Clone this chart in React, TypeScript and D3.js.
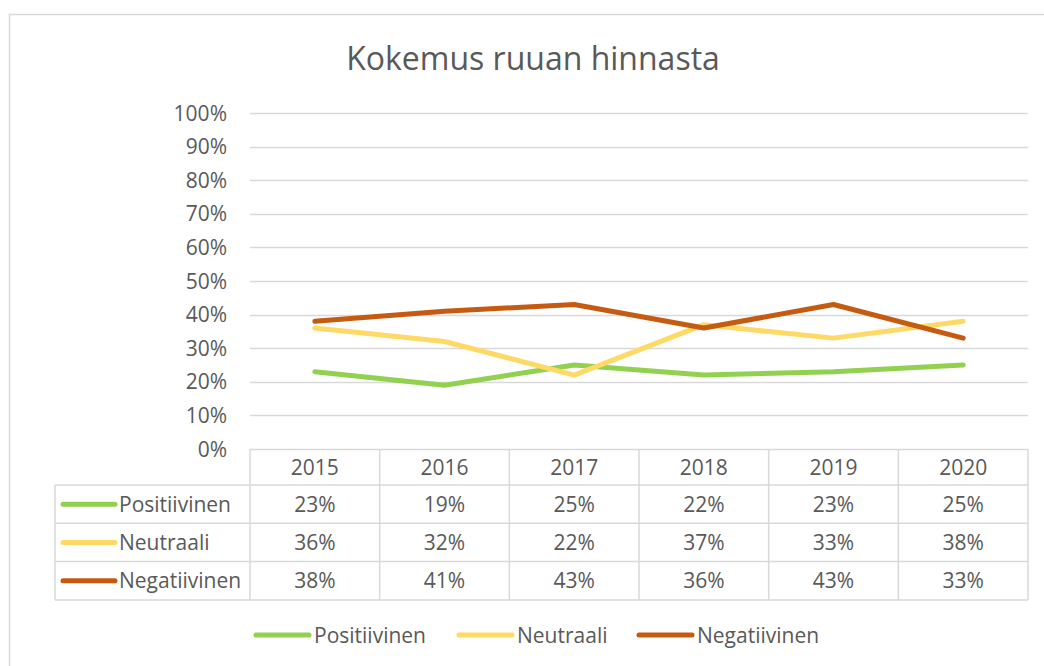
import React, { useEffect, useRef } from 'react';
import * as d3 from 'd3';

const title = 'Kokemus ruuan hinnasta';
const years = ['2015', '2016', '2017', '2018', '2019', '2020'];
const seriesNames = ['Positiivinen', 'Neutraali', 'Negatiivinen'];
const positiivinen = [23, 19, 25, 22, 23, 25];
const neutraali = [36, 32, 22, 37, 33, 38];
const negatiivinen = [38, 41, 43, 36, 43, 33];
const seriesColors = ['#92D050', '#FFD966', '#C55A11'];
const yTicks = [0, 10, 20, 30, 40, 50, 60, 70, 80, 90, 100];

const App = () => {
  const chart = useRef<SVGSVGElement>(null);

  useEffect(() => {
    const width = 1044;
    const height = 666;
    const font = "'Open Sans', 'Noto Sans', sans-serif";
    const fontSize = '21px';
    const textColor = '#595959';
    const gridColor = '#D9D9D9';

    const left = 250;
    const right = 1028;
    const tableLeft = 55;
    const headerH = 36;
    const rowH = 38.3;

    const svg = d3.select(chart.current).attr('width', width).attr('height', height);
    svg.selectAll('*').remove();

    const values = [positiivinen, neutraali, negatiivinen];

    const x = d3.scaleBand().domain(years).range([left, right]);
    const y = d3.scaleLinear().domain([0, 100]).range([449, 113]);
    const cx = (yr: string) => (x(yr) as number) + x.bandwidth() / 2;

    // outer chart border
    svg
      .append('rect')
      .attr('x', 9.5)
      .attr('y', 14.5)
      .attr('width', 1100)
      .attr('height', 700)
      .attr('fill', 'white')
      .attr('stroke', gridColor)
      .attr('stroke-width', 1.5);

    svg
      .append('text')
      .attr('x', 533)
      .attr('y', 70)
      .attr('text-anchor', 'middle')
      .attr('fill', textColor)
      .style('font-family', font)
      .style('font-size', '32px')
      .text(title);

    // gridlines + y labels
    const g = svg.append('g');
    g.selectAll('line.grid')
      .data(yTicks)
      .enter()
      .append('line')
      .attr('class', 'grid')
      .attr('x1', left)
      .attr('x2', right)
      .attr('y1', (d) => Math.round(y(d)) + 0.5)
      .attr('y2', (d) => Math.round(y(d)) + 0.5)
      .attr('stroke', gridColor)
      .attr('stroke-width', 1.5);

    g.selectAll('text.ytick')
      .data(yTicks)
      .enter()
      .append('text')
      .attr('class', 'ytick')
      .attr('x', 227)
      .attr('y', (d) => y(d))
      .attr('dy', '0.36em')
      .attr('text-anchor', 'end')
      .attr('fill', textColor)
      .style('font-family', font)
      .style('font-size', fontSize)
      .text((d) => `${d}%`);

    // data table
    const tableTop = y(0);
    const tableBottom = tableTop + headerH + rowH * 3;
    const t = svg.append('g').attr('stroke', gridColor).attr('stroke-width', 1.5);
    [0, 1, 2, 3].forEach((i) => {
      const yy = tableTop + headerH + rowH * i;
      t.append('line').attr('x1', tableLeft).attr('x2', right).attr('y1', yy).attr('y2', yy);
    });
    t.append('line')
      .attr('x1', tableLeft)
      .attr('x2', tableLeft)
      .attr('y1', tableTop + headerH)
      .attr('y2', tableBottom);
    const cols = years.map((yr) => x(yr) as number).concat([right]);
    cols.forEach((cxx) => {
      t.append('line').attr('x1', cxx).attr('x2', cxx).attr('y1', tableTop).attr('y2', tableBottom);
    });

    svg
      .selectAll('text.year')
      .data(years)
      .enter()
      .append('text')
      .attr('class', 'year')
      .attr('x', (d) => cx(d))
      .attr('y', tableTop + headerH / 2)
      .attr('dy', '0.36em')
      .attr('text-anchor', 'middle')
      .attr('fill', textColor)
      .style('font-family', font)
      .style('font-size', fontSize)
      .text((d) => d);

    seriesNames.forEach((name, si) => {
      const ry = tableTop + headerH + rowH * si + rowH / 2;
      svg
        .append('line')
        .attr('x1', 63)
        .attr('x2', 115)
        .attr('y1', ry)
        .attr('y2', ry)
        .attr('stroke', seriesColors[si])
        .attr('stroke-width', 5)
        .attr('stroke-linecap', 'round');
      svg
        .append('text')
        .attr('x', 119)
        .attr('y', ry)
        .attr('dy', '0.36em')
        .attr('fill', textColor)
        .style('font-family', font)
        .style('font-size', fontSize)
        .text(name);
      svg
        .selectAll(`text.v${si}`)
        .data(values[si])
        .enter()
        .append('text')
        .attr('class', `v${si}`)
        .attr('x', (d, i) => cx(years[i]))
        .attr('y', ry)
        .attr('dy', '0.36em')
        .attr('text-anchor', 'middle')
        .attr('fill', textColor)
        .style('font-family', font)
        .style('font-size', fontSize)
        .text((d) => `${d}%`);
    });

    // lines
    const line = d3
      .line<number>()
      .x((d, i) => cx(years[i]))
      .y((d) => y(d));

    values.forEach((vals, si) => {
      svg
        .append('path')
        .datum(vals)
        .attr('d', line)
        .attr('fill', 'none')
        .attr('stroke', seriesColors[si])
        .attr('stroke-width', 5)
        .attr('stroke-linecap', 'round')
        .attr('stroke-linejoin', 'round');
    });

    // legend
    const legendX = [256, 459, 639];
    seriesNames.forEach((name, si) => {
      const lx = legendX[si];
      svg
        .append('line')
        .attr('x1', lx)
        .attr('x2', lx + 53)
        .attr('y1', 635)
        .attr('y2', 635)
        .attr('stroke', seriesColors[si])
        .attr('stroke-width', 5)
        .attr('stroke-linecap', 'round');
      svg
        .append('text')
        .attr('x', lx + 58)
        .attr('y', 635)
        .attr('dy', '0.36em')
        .attr('fill', textColor)
        .style('font-family', font)
        .style('font-size', fontSize)
        .text(name);
    });
  }, []);

  return (
    <div style={{ position: 'absolute', left: 0, top: 0 }}>
      <svg ref={chart} style={{ display: 'block' }} />
    </div>
  );
};

export default App;
